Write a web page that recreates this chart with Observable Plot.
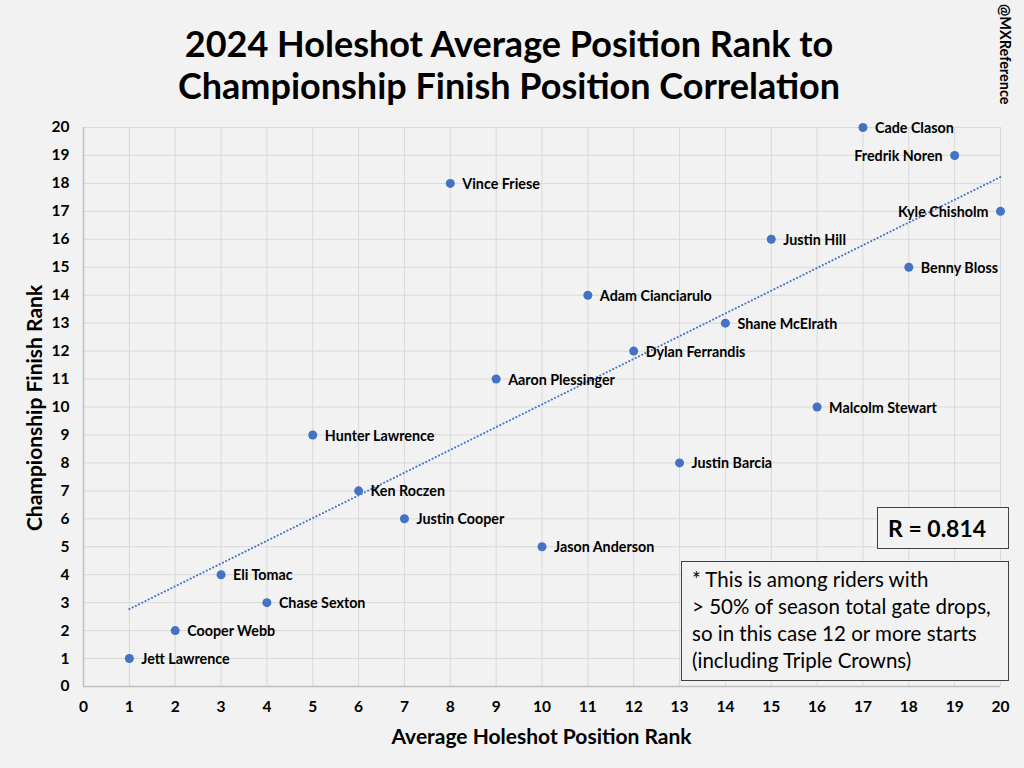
<!DOCTYPE html>
<html><head><meta charset="utf-8">
<script src="https://cdn.jsdelivr.net/npm/d3@7"></script>
<script src="https://cdn.jsdelivr.net/npm/@observablehq/plot@0.6"></script>
<style>
body{margin:0;background:#f2f2f2;font-family:Lato,"Open Sans",sans-serif;color:#000;}
#wrap{position:relative;width:1024px;height:768px;overflow:hidden;background:#f2f2f2;}
#title{height:110px;text-align:center;font-weight:bold;font-size:36px;line-height:42px;padding-top:22px;box-sizing:border-box;padding-right:6px;}
#title div{white-space:nowrap;}
#watermark{position:absolute;left:1006px;top:4px;transform-origin:0 0;transform:rotate(90deg) translate(0,-8px);font-size:14.5px;font-weight:bold;white-space:nowrap;}
#xlabel{position:absolute;left:83px;width:917px;top:723px;text-align:center;font-weight:bold;font-size:21px;}
#ylabel{position:absolute;left:21px;top:408px;transform-origin:0 0;transform:rotate(-90deg) translate(-50%,0);font-weight:bold;font-size:21px;white-space:nowrap;}
#rbox{position:absolute;left:877px;top:507px;width:132px;height:42px;box-sizing:border-box;border:1.3px solid #404040;background:#f2f2f2;font-weight:bold;font-size:23px;line-height:40px;padding-left:10px;}
#note{position:absolute;left:681px;top:561px;width:328px;height:120px;box-sizing:border-box;border:1.3px solid #404040;background:#f2f2f2;font-size:20.5px;line-height:27px;padding:4px 0 0 10px;white-space:nowrap;}
svg{display:block;}
</style></head>
<body>
<div id="wrap">
  <div id="title"><div>2024 Holeshot Average Position Rank to</div><div>Championship Finish Position Correlation</div></div>
  <div id="chart"></div>
  <div id="watermark">@MXReference</div>
  <div id="xlabel">Average Holeshot Position Rank</div>
  <div id="ylabel">Championship Finish Rank</div>
  <div id="rbox">R = 0.814</div>
  <div id="note">* This is among riders with<br>&gt; 50% of season total gate drops,<br>so in this case 12 or more starts<br>(including Triple Crowns)</div>
</div>
<script>
const riders = ["Jett Lawrence","Cooper Webb","Eli Tomac","Chase Sexton","Hunter Lawrence","Ken Roczen","Justin Cooper","Vince Friese","Aaron Plessinger","Jason Anderson","Adam Cianciarulo","Dylan Ferrandis","Justin Barcia","Shane McElrath","Justin Hill","Malcolm Stewart","Cade Clason","Benny Bloss","Fredrik Noren","Kyle Chisholm"];
const holeshotRank = [1,2,3,4,5,6,7,8,9,10,11,12,13,14,15,16,17,18,19,20];
const finishRank =   [1,2,4,3,9,7,6,18,11,5,14,12,8,13,16,10,20,15,19,17];
const labelLeft = ["Fredrik Noren","Kyle Chisholm"];
const ticks = d3.range(0, 21);

const data = riders.map((name, i) => ({name, x: holeshotRank[i], y: finishRank[i]}));
const right = data.filter(d => !labelLeft.includes(d.name));
const left = data.filter(d => labelLeft.includes(d.name));

const plot = Plot.plot({
  width: 1024,
  height: 658,
  marginTop: 17,
  marginBottom: 82,
  marginLeft: 83,
  marginRight: 24,
  style: {background: "transparent", fontFamily: "Lato, 'Open Sans', sans-serif", color: "#000"},
  x: {domain: [0, 20], label: null},
  y: {domain: [0, 20], label: null},
  marks: [
    Plot.gridX(ticks, {stroke: "#d9d9d9", strokeOpacity: 1, strokeWidth: 1}),
    Plot.gridY(ticks, {stroke: "#d9d9d9", strokeOpacity: 1, strokeWidth: 1}),
    Plot.ruleX([0], {stroke: "#bfbfbf", strokeWidth: 1.5}),
    Plot.ruleY([0], {stroke: "#bfbfbf", strokeWidth: 1.5}),
    Plot.axisX({ticks, tickSize: 0, tickPadding: 14, fontSize: 15.5, fontWeight: "bold", label: null}),
    Plot.axisY({ticks, tickSize: 0, tickPadding: 14, fontSize: 15.5, fontWeight: "bold", label: null}),
    Plot.linearRegressionY(data, {x: "x", y: "y", ci: 0, stroke: "#4472c4", strokeWidth: 2, strokeDasharray: "0.1 3.5", strokeLinecap: "round"}),
    Plot.dot(data, {x: "x", y: "y", r: 4.5, fill: "#4472c4", stroke: "none"}),
    Plot.text(right, {x: "x", y: "y", text: "name", textAnchor: "start", dx: 12, dy: 1, fontSize: 14.3, fontWeight: "bold", fill: "#000"}),
    Plot.text(left, {x: "x", y: "y", text: "name", textAnchor: "end", dx: -12, dy: 1, fontSize: 14.3, fontWeight: "bold", fill: "#000"})
  ]
});
document.getElementById("chart").appendChild(plot);
</script>
</body></html>
